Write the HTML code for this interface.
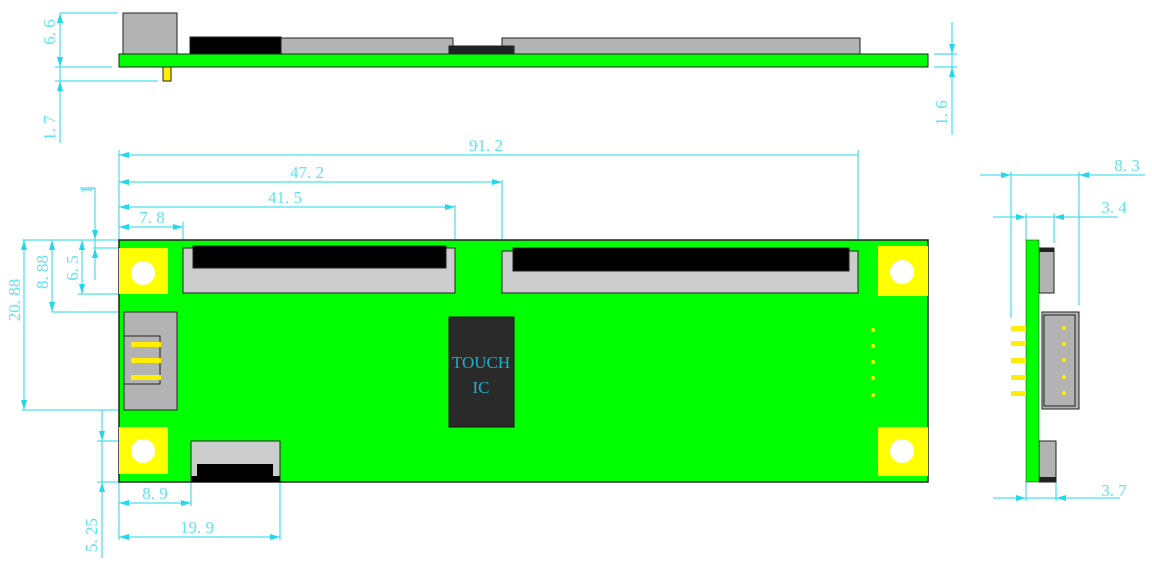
<!DOCTYPE html>
<html><head><meta charset="utf-8"><style>
html,body{margin:0;padding:0;background:#fff}
svg{display:block}
text{font-family:"Liberation Serif",serif;fill:#5fe3ee;font-size:17px}
</style></head><body>
<svg width="1152" height="563" viewBox="0 0 1152 563" xmlns="http://www.w3.org/2000/svg">
<defs>
<marker id="a" viewBox="0 0 10 6" refX="10" refY="3" markerWidth="14" markerHeight="6" markerUnits="userSpaceOnUse" orient="auto-start-reverse"><path d="M0,0 L10,3 L0,6 z" fill="#22d8ea"/></marker>
</defs>
<g stroke="#22d8ea" stroke-width="1" fill="none">
<!-- top view dims -->
<line x1="60" y1="13" x2="60" y2="143"/>
<line x1="60" y1="30" x2="60" y2="13" marker-end="url(#a)"/>
<line x1="60" y1="50" x2="60" y2="67" marker-end="url(#a)"/>
<line x1="60" y1="100" x2="60" y2="81" marker-end="url(#a)"/>
<line x1="60" y1="13" x2="118" y2="13"/>
<line x1="55" y1="67" x2="112" y2="67"/>
<line x1="55" y1="81" x2="158" y2="81"/>
<line x1="952" y1="22" x2="952" y2="135"/>
<line x1="952" y1="36" x2="952" y2="54" marker-end="url(#a)"/>
<line x1="952" y1="85" x2="952" y2="67" marker-end="url(#a)"/>
<line x1="934" y1="54" x2="957" y2="54"/>
<line x1="934" y1="67" x2="957" y2="67"/>
<!-- horizontal dims main -->
<line x1="119" y1="150" x2="119" y2="240"/>
<line x1="119" y1="155" x2="858" y2="155" marker-start="url(#a)"/>
<line x1="119" y1="182" x2="502" y2="182" marker-start="url(#a)" marker-end="url(#a)"/>
<line x1="119" y1="207" x2="455" y2="207" marker-start="url(#a)" marker-end="url(#a)"/>
<line x1="119" y1="227" x2="183" y2="227" marker-start="url(#a)" marker-end="url(#a)"/>
<line x1="183" y1="222" x2="183" y2="248"/>
<line x1="455" y1="205" x2="455" y2="248"/>
<line x1="502" y1="180" x2="502" y2="251"/>
<line x1="858" y1="150" x2="858" y2="251"/>
<!-- left dims -->
<line x1="22" y1="240" x2="118" y2="240"/>
<line x1="22" y1="410" x2="118" y2="410"/>
<line x1="24" y1="240" x2="24" y2="410" marker-start="url(#a)" marker-end="url(#a)"/>
<line x1="52" y1="240" x2="52" y2="312" marker-start="url(#a)" marker-end="url(#a)"/>
<line x1="52" y1="312" x2="118" y2="312"/>
<line x1="82" y1="240" x2="82" y2="294" marker-start="url(#a)" marker-end="url(#a)"/>
<line x1="78" y1="294" x2="170" y2="294"/>
<line x1="93" y1="248" x2="170" y2="248"/>
<line x1="95" y1="188" x2="95" y2="280"/>
<line x1="95" y1="220" x2="95" y2="240" marker-end="url(#a)"/>
<line x1="95" y1="268" x2="95" y2="248" marker-end="url(#a)"/>
<line x1="80" y1="188" x2="95" y2="188"/>
<!-- bottom dims -->
<line x1="102" y1="410" x2="102" y2="558"/>
<line x1="102" y1="422" x2="102" y2="441" marker-end="url(#a)"/>
<line x1="102" y1="500" x2="102" y2="482" marker-end="url(#a)"/>
<line x1="97" y1="441" x2="185" y2="441"/>
<line x1="97" y1="482" x2="118" y2="482"/>
<line x1="119" y1="482" x2="119" y2="540"/>
<line x1="191" y1="482" x2="191" y2="506"/>
<line x1="280" y1="482" x2="280" y2="540"/>
<line x1="119" y1="503" x2="191" y2="503" marker-start="url(#a)" marker-end="url(#a)"/>
<line x1="119" y1="537" x2="280" y2="537" marker-start="url(#a)" marker-end="url(#a)"/>
<!-- side view dims -->
<line x1="980" y1="175" x2="1145" y2="175"/>
<line x1="993" y1="175" x2="1011" y2="175" marker-end="url(#a)"/>
<line x1="1097" y1="175" x2="1079" y2="175" marker-end="url(#a)"/>
<line x1="1011" y1="172" x2="1011" y2="318"/>
<line x1="1079" y1="172" x2="1079" y2="305"/>
<line x1="993" y1="217" x2="1118" y2="217"/>
<line x1="1008" y1="217" x2="1026" y2="217" marker-end="url(#a)"/>
<line x1="1072" y1="217" x2="1054" y2="217" marker-end="url(#a)"/>
<line x1="1026" y1="213" x2="1026" y2="240"/>
<line x1="1054" y1="213" x2="1054" y2="243"/>
<line x1="993" y1="498" x2="1120" y2="498"/>
<line x1="1008" y1="498" x2="1026" y2="498" marker-end="url(#a)"/>
<line x1="1074" y1="498" x2="1056" y2="498" marker-end="url(#a)"/>
<line x1="1026" y1="482" x2="1026" y2="501"/>
<line x1="1056" y1="482" x2="1056" y2="501"/>
</g>
<!-- top view -->
<g stroke="#222" stroke-width="1">
<rect x="123" y="13" width="54" height="41" fill="#b3b3b3"/>
<rect x="281" y="38" width="172" height="16" fill="#b3b3b3"/>
<rect x="502" y="38" width="358" height="16" fill="#b3b3b3"/>
<rect x="190" y="37" width="91" height="17" fill="#000"/>
<rect x="449" y="46" width="65" height="8" fill="#222"/>
<rect x="119" y="54" width="809" height="13" fill="#00ff00"/>
<rect x="163" y="67" width="8" height="14" fill="#ffee00"/>
</g>
<!-- main board -->
<rect x="119" y="240" width="809" height="242" fill="#00ff00" stroke="#222" stroke-width="1.5"/>
<g fill="#ffff00">
<rect x="119" y="248" width="49" height="46"/>
<rect x="119" y="427" width="49" height="47"/>
<rect x="878" y="246" width="50" height="50"/>
<rect x="878" y="427" width="50" height="49"/>
</g>
<g fill="#fff">
<circle cx="143" cy="273" r="12"/><circle cx="143" cy="451" r="12"/>
<circle cx="902" cy="272" r="12"/><circle cx="902" cy="451" r="12"/>
</g>
<g stroke="#222" stroke-width="1">
<rect x="183" y="248" width="272" height="45" fill="#cccccc"/>
<rect x="193" y="246" width="253" height="22" fill="#000"/>
<rect x="502" y="251" width="356" height="42" fill="#cccccc"/>
<rect x="513" y="248" width="336" height="23" fill="#000"/>
<rect x="124" y="312" width="53" height="98" fill="#b3b3b3"/>
<rect x="124" y="336" width="36" height="48" fill="#b3b3b3"/>
<rect x="191" y="441" width="89" height="41" fill="#cccccc"/>
</g>
<rect x="197" y="464" width="76" height="18" fill="#000"/>
<rect x="191" y="476" width="89" height="6" fill="#000"/>
<g fill="#ffee00">
<rect x="131" y="342" width="30" height="5"/>
<rect x="131" y="358" width="30" height="5"/>
<rect x="131" y="375" width="30" height="5"/>
</g>
<rect x="449" y="317" width="65" height="110" fill="#2a2a2a" stroke="#111"/>
<text x="481" y="368" text-anchor="middle" style="fill:#1fb0c4;font-size:17px">TOUCH</text>
<text x="481" y="393" text-anchor="middle" style="fill:#1fb0c4;font-size:17px">IC</text>
<g fill="#ffee00">
<circle cx="873" cy="330" r="2"/><circle cx="873" cy="346" r="2"/><circle cx="873" cy="362" r="2"/><circle cx="873" cy="378" r="2"/><circle cx="873" cy="395" r="2"/>
</g>
<!-- side view -->
<g stroke="#222" stroke-width="1">
<rect x="1039" y="248" width="15" height="45" fill="#b3b3b3"/>
<rect x="1042" y="312" width="37" height="97" fill="#b3b3b3"/>
<rect x="1044" y="315" width="31" height="91" fill="#b3b3b3"/>
<rect x="1039" y="441" width="17" height="41" fill="#b3b3b3"/>
</g>
<rect x="1039" y="248" width="15" height="4" fill="#222"/>
<rect x="1039" y="477" width="17" height="5" fill="#222"/>
<rect x="1026" y="240" width="13" height="242" fill="#00ff00" stroke="#222" stroke-width="0.5"/>
<g fill="#ffee00">
<rect x="1011" y="326" width="15" height="5"/><rect x="1011" y="341" width="15" height="5"/><rect x="1011" y="358" width="15" height="5"/><rect x="1011" y="375" width="15" height="5"/><rect x="1011" y="391" width="15" height="5"/>
<circle cx="1064" cy="328" r="2"/><circle cx="1064" cy="344" r="2"/><circle cx="1064" cy="360" r="2"/><circle cx="1064" cy="377" r="2"/><circle cx="1064" cy="393" r="2"/>
</g>
<!-- labels -->
<text x="486" y="151" text-anchor="middle">91. 2</text>
<text x="307" y="178" text-anchor="middle">47. 2</text>
<text x="285" y="203" text-anchor="middle">41. 5</text>
<text x="152" y="223" text-anchor="middle">7. 8</text>
<text x="155" y="499" text-anchor="middle">8. 9</text>
<text x="197" y="533" text-anchor="middle">19. 9</text>
<text x="1127" y="171" text-anchor="middle">8. 3</text>
<text x="1114" y="213" text-anchor="middle">3. 4</text>
<text x="1114" y="496" text-anchor="middle">3. 7</text>
<text transform="translate(55,32) rotate(-90)" text-anchor="middle">6. 6</text>
<text transform="translate(55,128) rotate(-90)" text-anchor="middle">1. 7</text>
<text transform="translate(947,113) rotate(-90)" text-anchor="middle">1. 6</text>
<text transform="translate(20,300) rotate(-90)" text-anchor="middle">20. 88</text>
<text transform="translate(48,272) rotate(-90)" text-anchor="middle">8. 88</text>
<text transform="translate(78,268) rotate(-90)" text-anchor="middle">6. 5</text>
<text transform="translate(92,190) rotate(-90)" text-anchor="middle">1</text>
<text transform="translate(97,535) rotate(-90)" text-anchor="middle">5. 25</text>
</svg>
</body></html>
